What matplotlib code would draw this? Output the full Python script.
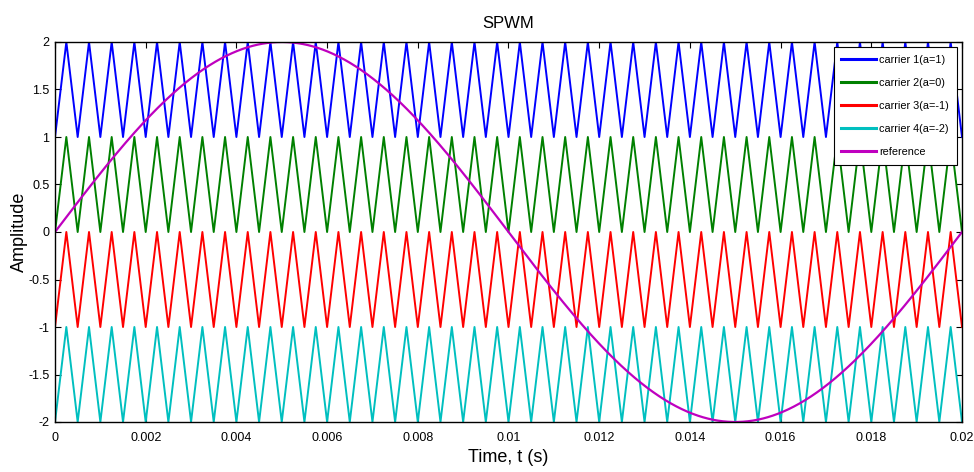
import numpy as np
import matplotlib
matplotlib.use("Agg")
import matplotlib.pyplot as plt

plt.rcParams['font.family'] = ['Liberation Sans', 'DejaVu Sans']

# Signal parameters
t_end = 0.02
carrier_freq = 2000.0          # Hz
carrier_offsets = [1, 0, -1, -2]
carrier_labels = ['carrier 1(a=1)', 'carrier 2(a=0)', 'carrier 3(a=-1)', 'carrier 4(a=-2)']
carrier_colors = ['#0000ff', '#008000', '#ff0000', '#00bfbf']
ref_freq = 50.0                # Hz
ref_amp = 2.0
ref_label = 'reference'
ref_color = '#bf00bf'

xticks = [0, 0.002, 0.004, 0.006, 0.008, 0.01, 0.012, 0.014, 0.016, 0.018, 0.02]
xtick_labels = ['0', '0.002', '0.004', '0.006', '0.008', '0.01', '0.012', '0.014', '0.016', '0.018', '0.02']
yticks = [-2, -1.5, -1, -0.5, 0, 0.5, 1, 1.5, 2]
ytick_labels = ['-2', '-1.5', '-1', '-0.5', '0', '0.5', '1', '1.5', '2']

fig = plt.figure(figsize=(9.74, 4.72), dpi=100)
ax = fig.add_axes([55/974, 1-422/472, (962-55)/974, (422-42)/472])

# triangle carriers: vertices every half period
n_half = int(round(t_end * carrier_freq * 2))
tv = np.arange(n_half + 1) / (2 * carrier_freq)
tri = np.arange(n_half + 1) % 2  # 0 at minimum, 1 at peak
for off, lab, col in zip(carrier_offsets, carrier_labels, carrier_colors):
    ax.plot(tv, tri + off, color=col, lw=1.4, label=lab)

t = np.linspace(0, t_end, 2001)
ax.plot(t, ref_amp * np.sin(2 * np.pi * ref_freq * t), color=ref_color, lw=1.6, label=ref_label)

ax.set_xlim(0, t_end)
ax.set_ylim(-2, 2)
ax.set_xticks(xticks)
ax.set_xticklabels(xtick_labels)
ax.set_yticks(yticks)
ax.set_yticklabels(ytick_labels)
ax.tick_params(direction='in', top=True, right=True, labelsize=9, length=4)
ax.tick_params(axis='x', pad=7)
ax.tick_params(axis='y', pad=4)
for s in ax.spines.values():
    s.set_linewidth(1.0)

ax.set_title('SPWM', fontsize=12, pad=10)
ax.set_xlabel('Time, t (s)', fontsize=13, labelpad=4)
ax.set_ylabel('Amplitude', fontsize=13, labelpad=0)

leg = ax.legend(loc='upper right', fontsize=7.8, frameon=True, fancybox=False,
                edgecolor='black', framealpha=1, handlelength=3.2, handletextpad=0.3,
                borderaxespad=0.5, labelspacing=1.2, borderpad=0.7)
leg.get_frame().set_linewidth(0.8)
for line in leg.get_lines():
    line.set_linewidth(2.2)

fig.savefig('out.png', dpi=100)
